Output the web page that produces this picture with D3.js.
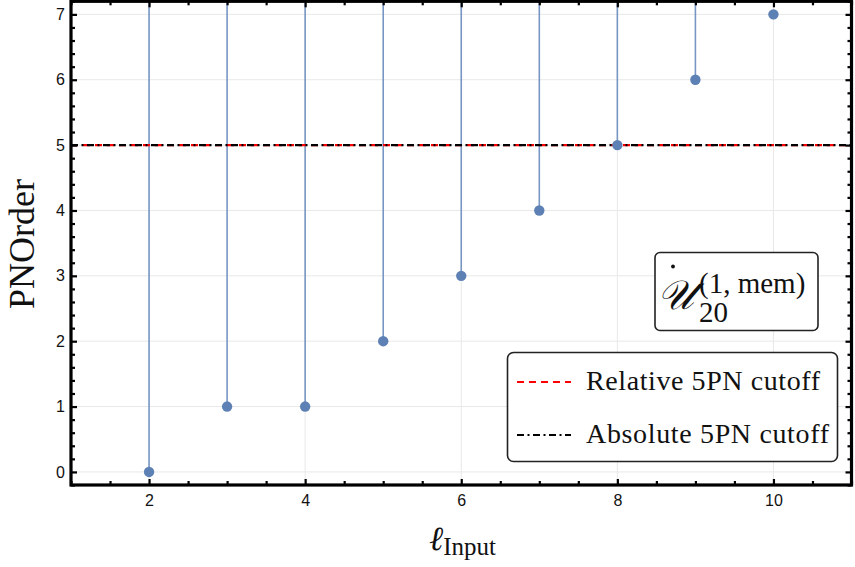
<!DOCTYPE html>
<html>
<head>
<meta charset="utf-8">
<script src="https://cdn.jsdelivr.net/npm/d3@7"></script>
<style>
  html, body { margin: 0; padding: 0; background: #fff; }
  svg { display: block; }
</style>
</head>
<body>
<svg id="chart" width="855" height="567"></svg>
<script>
// ---- data ----
const ellInput = [2, 3, 4, 5, 6, 7, 8, 9, 10];
const pnOrder = [0, 1, 1, 2, 3, 4, 5, 6, 7];
const stemmed = [true, true, true, true, true, true, true, true, false];
const relativeCutoff = 5;
const absoluteCutoff = 5;
const xMajorTicks = [2, 4, 6, 8, 10];
const yMajorTicks = [0, 1, 2, 3, 4, 5, 6, 7];
const legendLabels = ["Relative 5PN cutoff", "Absolute 5PN cutoff"];

// ---- layout ----
const svg = d3.select("#chart");
const L = 71, R = 851.5, T = 1.3, B = 485;
const x = d3.scaleLinear().domain([1, 11]).range([L, R]);
const y = d3.scaleLinear().domain([-0.2, 7.2]).range([B, T]);

const xMinor = d3.range(1, 11.001, 0.5).filter(v => !xMajorTicks.includes(v));
const yMinor = d3.range(-0.2, 7.2001, 0.2).map(v => Math.round(v * 10) / 10).filter(v => Math.abs(v - Math.round(v)) > 1e-6);

const sans = "'Liberation Sans', Arial, sans-serif";
const serif = "'Liberation Serif', 'Times New Roman', serif";

// grid
const grid = svg.append("g");
grid.selectAll("line.h").data(yMajorTicks).join("line")
  .attr("x1", L).attr("x2", R).attr("y1", d => y(d)).attr("y2", d => y(d))
  .attr("stroke", "#e8e8e8").attr("stroke-width", 1);
grid.selectAll("line.v").data(xMajorTicks).join("line")
  .attr("y1", T).attr("y2", B).attr("x1", d => x(d)).attr("x2", d => x(d))
  .attr("stroke", "#e8e8e8").attr("stroke-width", 1);

// stems
const pts = ellInput.map((e, i) => ({ e, v: pnOrder[i], s: stemmed[i] }));
svg.append("g").selectAll("line").data(pts.filter(d => d.s)).join("line")
  .attr("x1", d => x(d.e)).attr("x2", d => x(d.e))
  .attr("y1", d => y(d.v)).attr("y2", y(7.2))
  .attr("stroke", "#7896c4").attr("stroke-width", 1.6);

// cutoff lines
svg.append("line").attr("x1", L).attr("x2", R)
  .attr("y1", y(relativeCutoff)).attr("y2", y(relativeCutoff))
  .attr("stroke", "#ff0000").attr("stroke-width", 2.4)
  .attr("stroke-dasharray", "7,5");
svg.append("line").attr("x1", L).attr("x2", R)
  .attr("y1", y(absoluteCutoff)).attr("y2", y(absoluteCutoff))
  .attr("stroke", "#000").attr("stroke-width", 2.4)
  .attr("stroke-dasharray", "7,3.5,2,3.5");

// points
svg.append("g").selectAll("circle").data(pts).join("circle")
  .attr("cx", d => x(d.e)).attr("cy", d => y(d.v)).attr("r", 5.2)
  .attr("fill", "#5e81b5");

// axes
function styleAxis(g, w) {
  g.select(".domain").remove();
  g.selectAll(".tick line").attr("stroke", "#000").attr("stroke-width", w);
  g.selectAll(".tick text").attr("font-family", sans).attr("font-size", 16).attr("fill", "#111");
}
svg.append("g").attr("transform", `translate(0,${B})`)
  .call(d3.axisBottom(x).tickValues(xMajorTicks).tickSize(-6).tickPadding(10).tickFormat(d3.format("d")))
  .call(g => styleAxis(g, 2.2));
svg.append("g").attr("transform", `translate(0,${B})`)
  .call(d3.axisBottom(x).tickValues(xMinor).tickSize(-4).tickFormat(""))
  .call(g => styleAxis(g, 2.2));
svg.append("g").attr("transform", `translate(0,${T})`)
  .call(d3.axisTop(x).tickValues(xMajorTicks).tickSize(-6).tickFormat(""))
  .call(g => styleAxis(g, 2.2));
svg.append("g").attr("transform", `translate(0,${T})`)
  .call(d3.axisTop(x).tickValues(xMinor).tickSize(-4).tickFormat(""))
  .call(g => styleAxis(g, 2.2));
svg.append("g").attr("transform", `translate(${L},0)`)
  .call(d3.axisLeft(y).tickValues(yMajorTicks).tickSize(-6).tickPadding(6).tickFormat(d3.format("d")))
  .call(g => styleAxis(g, 2.2));
svg.append("g").attr("transform", `translate(${L},0)`)
  .call(d3.axisLeft(y).tickValues(yMinor).tickSize(-4).tickFormat(""))
  .call(g => styleAxis(g, 2.2));
svg.append("g").attr("transform", `translate(${R},0)`)
  .call(d3.axisRight(y).tickValues(yMajorTicks).tickSize(-6).tickFormat(""))
  .call(g => styleAxis(g, 2.2));
svg.append("g").attr("transform", `translate(${R},0)`)
  .call(d3.axisRight(y).tickValues(yMinor).tickSize(-4).tickFormat(""))
  .call(g => styleAxis(g, 2.2));

// frame
svg.append("rect").attr("x", L).attr("y", T).attr("width", R - L).attr("height", B - T)
  .attr("fill", "none").attr("stroke", "#000").attr("stroke-width", 3.2);

// axis labels
svg.append("text").attr("transform", "translate(34,244) rotate(-90)")
  .attr("text-anchor", "middle").attr("font-family", serif).attr("font-size", 36)
  .attr("fill", "#111").text("PNOrder");
const xl = svg.append("text").attr("x", 429).attr("y", 550)
  .attr("font-family", serif).attr("fill", "#111");
xl.append("tspan").attr("font-size", 34).attr("font-style", "italic").text("ℓ");
xl.append("tspan").attr("font-size", 25).attr("dy", 5).text("Input");

// label box
svg.append("rect").attr("x", 655).attr("y", 252.5).attr("width", 163).attr("height", 78)
  .attr("rx", 5).attr("fill", "#fff").attr("stroke", "#222").attr("stroke-width", 1.6);
svg.append("text").attr("x", 657).attr("y", 309)
  .attr("font-family", serif).attr("font-size", 41).attr("font-style", "italic").attr("fill", "#111")
  .text("𝒰");
svg.append("circle").attr("cx", 673).attr("cy", 266.5).attr("r", 1.9).attr("fill", "#111");
svg.append("text").attr("x", 699).attr("y", 293)
  .attr("font-family", serif).attr("font-size", 29).attr("fill", "#111").text("(1, mem)");
svg.append("text").attr("x", 699).attr("y", 322)
  .attr("font-family", serif).attr("font-size", 29).attr("fill", "#111").text("20");

// legend
svg.append("rect").attr("x", 507.5).attr("y", 352.5).attr("width", 330).attr("height", 109)
  .attr("rx", 6).attr("fill", "#fff").attr("stroke", "#222").attr("stroke-width", 1.6);
const legY = [382, 435];
const legLen = [234, 243];
const legStyles = [
  { stroke: "#ff0000", dash: "7,5" },
  { stroke: "#000", dash: "7,3.5,2,3.5" }
];
legendLabels.forEach((lab, i) => {
  svg.append("line").attr("x1", 517).attr("x2", 571).attr("y1", legY[i]).attr("y2", legY[i])
    .attr("stroke", legStyles[i].stroke).attr("stroke-width", 2.2)
    .attr("stroke-dasharray", legStyles[i].dash);
  svg.append("text").attr("x", 586).attr("y", legY[i] + 8)
    .attr("font-family", serif).attr("font-size", 28).attr("fill", "#111")
    .attr("textLength", legLen[i]).attr("lengthAdjust", "spacing").text(lab);
});
</script>
</body>
</html>
